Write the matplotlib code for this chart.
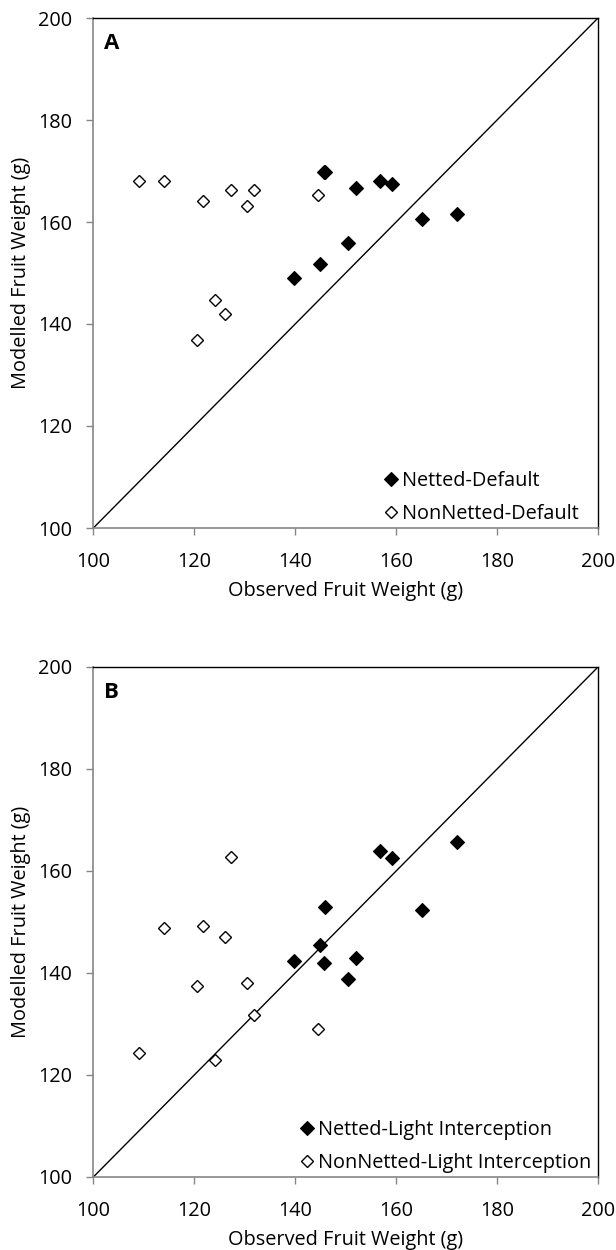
import matplotlib
matplotlib.use("Agg")
import matplotlib.pyplot as plt

plt.rcParams['font.family'] = ['Open Sans', 'DejaVu Sans']

# Panel A data
obs_net = [145.9, 145.7, 152.0, 156.8, 159.1, 165.2, 172.0, 150.4, 144.9, 139.7]
mod_net_A = [169.9, 169.8, 166.7, 168.0, 167.5, 160.6, 161.6, 155.9, 151.8, 149.0]
obs_non = [109.1, 114.1, 121.8, 127.3, 131.8, 130.4, 144.6, 124.2, 126.1, 120.5]
mod_non_A = [168.0, 168.0, 164.2, 166.3, 166.3, 163.1, 165.2, 144.8, 142.0, 136.9]

# Panel B data
mod_net_B = [153.0, 142.0, 143.0, 163.9, 162.6, 152.4, 165.7, 138.8, 145.5, 142.4]
mod_non_B = [124.3, 148.8, 149.2, 162.7, 131.8, 138.0, 129.1, 122.9, 147.1, 137.4]

panel_labels = ["A", "B"]
legend_labels = [("Netted-Default", "NonNetted-Default"),
                 ("Netted-Light Interception", "NonNetted-Light Interception")]
ticks = [100, 120, 140, 160, 180, 200]
xlabel = "Observed Fruit Weight (g)"
ylabel = "Modelled Fruit Weight (g)"

fig = plt.figure(figsize=(6.16, 12.5), dpi=100)
ax_pos = [[0.1515, 0.5776, 0.8193, 0.408], [0.1515, 0.0584, 0.8193, 0.408]]
data = [(obs_net, mod_net_A, obs_non, mod_non_A), (obs_net, mod_net_B, obs_non, mod_non_B)]
legend_anchor = [(0.970, 0.0), (0.994, 0.0)]

gray = '#868686'
fs = 14.3
for i in range(2):
    ax = fig.add_axes(ax_pos[i])
    xn, yn, xo, yo = data[i]
    ax.plot([100, 200], [100, 200], color='black', lw=1.0, zorder=1)
    ax.plot(xn, yn, linestyle='none', marker='D', ms=7.5, mfc='black', mec='black', mew=0.8,
            label=legend_labels[i][0], zorder=3)
    ax.plot(xo, yo, linestyle='none', marker='D', ms=6.3, mfc='white', mec='black', mew=1.0,
            label=legend_labels[i][1], zorder=3)
    ax.set_xlim(100, 200)
    ax.set_ylim(100, 200)
    ax.set_xticks(ticks)
    ax.set_yticks(ticks)
    ax.tick_params(direction='out', length=5, width=1, color=gray, labelsize=fs)
    ax.tick_params(axis='x', pad=12)
    ax.tick_params(axis='y', pad=10)
    for s in ['left', 'bottom']:
        ax.spines[s].set_color(gray)
        ax.spines[s].set_linewidth(1.2)
    for s in ['top', 'right']:
        ax.spines[s].set_color('black')
        ax.spines[s].set_linewidth(1.0)
    ax.set_xlabel(xlabel, fontsize=fs, labelpad=7)
    ax.set_ylabel(ylabel, fontsize=fs, labelpad=5)
    ax.text(0.022, 0.97, panel_labels[i], transform=ax.transAxes, fontsize=16,
            fontweight='bold', va='top', ha='left')
    ax.legend(loc='lower right', bbox_to_anchor=legend_anchor[i], frameon=False, fontsize=fs,
              handlelength=0.4, handletextpad=0.35, labelspacing=0.66, borderpad=0.2,
              borderaxespad=0.0)

fig.savefig("out.png", dpi=100)
